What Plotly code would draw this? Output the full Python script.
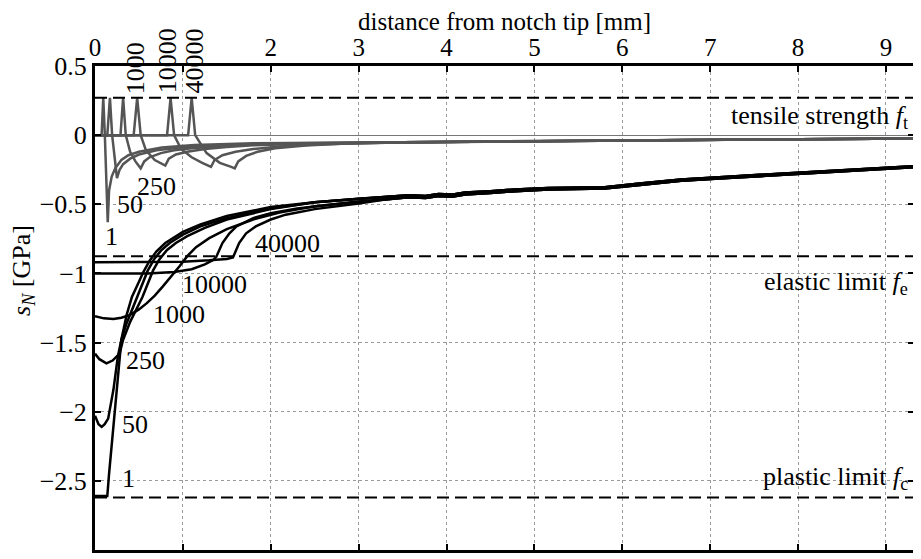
import plotly.graph_objects as go

# ---------------- data ----------------
F_T = 0.27      # tensile strength
F_E = -0.875    # elastic limit
F_C = -2.62     # plastic limit
X_MAX = 9.32

cycles = ["1", "50", "250", "1000", "10000", "40000"]

# grey curves (tensile side), heads
g1_x = [0, 0.075, 0.094, 0.112, 0.145, 0.16, 0.19, 0.23, 0.3, 0.38, 0.5, 0.76, 1.13, 1.8]
g1_y = [0, 0, 0.27, 0, -0.63, -0.40, -0.30, -0.24, -0.18, -0.145, -0.12, -0.09, -0.072, -0.058]
g50_x = [0, 0.14, 0.17, 0.195, 0.25, 0.28, 0.32, 0.4, 0.5, 0.7, 0.9, 1.2, 1.6, 2.0]
g50_y = [0, 0, 0.27, 0, -0.31, -0.25, -0.21, -0.17, -0.14, -0.11, -0.095, -0.08, -0.068, -0.06]
g250_x = [0, 0.29, 0.32, 0.35, 0.40, 0.46, 0.52, 0.56, 0.62, 0.75, 0.9, 1.1, 1.4, 1.8, 2.2]
g250_y = [0, 0, 0.27, 0, -0.12, -0.19, -0.24, -0.19, -0.16, -0.13, -0.11, -0.095, -0.08, -0.068, -0.062]
g1000_x = [0, 0.44, 0.48, 0.52, 0.58, 0.68, 0.80, 0.84, 0.92, 1.05, 1.25, 1.5, 1.8, 2.2, 2.6]
g1000_y = [0, 0, 0.27, 0, -0.11, -0.18, -0.22, -0.17, -0.14, -0.12, -0.1, -0.085, -0.073, -0.065, -0.058]
g10000_x = [0, 0.82, 0.86, 0.90, 0.98, 1.1, 1.22, 1.32, 1.36, 1.45, 1.6, 1.8, 2.1, 2.5, 3.0]
g10000_y = [0, 0, 0.27, 0, -0.1, -0.16, -0.2, -0.23, -0.18, -0.145, -0.12, -0.1, -0.083, -0.068, -0.058]
g40000_x = [0, 1.06, 1.10, 1.14, 1.27, 1.42, 1.55, 1.59, 1.63, 1.72, 1.85, 2.05, 2.4, 2.8, 3.3]
g40000_y = [0, 0, 0.27, 0, -0.13, -0.20, -0.23, -0.24, -0.19, -0.15, -0.12, -0.095, -0.075, -0.063, -0.055]
# shared grey tail
gtail_x = [3.5, 4.5, 6.0, 7.5, 9.32]
gtail_y = [-0.052, -0.046, -0.038, -0.031, -0.024]

# black curves (compressive side), heads
b1_x = [0, 0.14, 0.16, 0.2, 0.25, 0.3, 0.36, 0.42, 0.5, 0.55, 0.62, 0.7, 0.8, 1.0, 1.2, 1.5, 2.0]
b1_y = [-2.61, -2.61, -2.45, -2.18, -1.82, -1.48, -1.30, -1.17, -1.06, -0.99, -0.91, -0.84, -0.78, -0.70, -0.645, -0.585, -0.52]
b50_x = [0, 0.04, 0.076, 0.11, 0.15, 0.21, 0.26, 0.30, 0.36, 0.48, 0.6, 0.67, 0.75, 0.85, 1.0, 1.2, 1.5, 2.0]
b50_y = [-2.03, -2.09, -2.11, -2.09, -2.05, -1.84, -1.60, -1.48, -1.36, -1.17, -0.98, -0.9, -0.835, -0.78, -0.72, -0.66, -0.6, -0.53]
b250_x = [0, 0.05, 0.13, 0.2, 0.28, 0.32, 0.40, 0.54, 0.66, 0.73, 0.82, 0.92, 1.05, 1.25, 1.5, 2.0]
b250_y = [-1.58, -1.62, -1.65, -1.63, -1.58, -1.48, -1.35, -1.17, -0.98, -0.9, -0.83, -0.78, -0.73, -0.67, -0.61, -0.535]
b1000_x = [0, 0.1, 0.21, 0.3, 0.4, 0.5, 0.59, 0.68, 0.77, 0.87, 0.96, 1.05, 1.15, 1.3, 1.5, 1.8, 2.1, 2.5, 3.0]
b1000_y = [-1.31, -1.325, -1.33, -1.32, -1.30, -1.26, -1.215, -1.16, -1.095, -1.02, -0.95, -0.875, -0.81, -0.745, -0.68, -0.61, -0.56, -0.515, -0.48]
b10000_x = [0, 0.3, 0.6, 0.9, 1.1, 1.25, 1.34, 1.38, 1.45, 1.53, 1.61, 1.8, 2.0, 2.3, 2.7, 3.0]
b10000_y = [-1.0, -1.0, -1.0, -0.99, -0.97, -0.935, -0.905, -0.88, -0.78, -0.71, -0.66, -0.6, -0.565, -0.53, -0.5, -0.482]
b40000_x = [0, 0.5, 1.0, 1.3, 1.5, 1.57, 1.64, 1.72, 1.83, 2.0, 2.17, 2.5, 3.0]
b40000_y = [-0.92, -0.92, -0.915, -0.905, -0.895, -0.885, -0.78, -0.71, -0.66, -0.61, -0.575, -0.535, -0.495]
# shared black tails (upper / lower edge of the band)
btail_up_x = [2.5, 3.0, 3.3, 3.57, 3.76, 3.91, 4.06, 4.21, 4.5, 4.78, 5.16, 5.5, 5.8, 6.2, 6.67, 7.2, 7.62, 8.1, 8.56, 9.0, 9.32]
btail_up_y = [-0.485, -0.46, -0.447, -0.435, -0.44, -0.425, -0.43, -0.415, -0.405, -0.393, -0.383, -0.378, -0.377, -0.35, -0.32, -0.30, -0.285, -0.27, -0.25, -0.235, -0.225]
btail_lo_x = [3.3, 3.57, 3.76, 3.91, 4.06, 4.21, 4.5, 4.78, 5.16, 5.5, 5.8, 6.2, 6.67, 7.2, 7.62, 8.1, 8.56, 9.0, 9.32]
btail_lo_y = [-0.465, -0.45, -0.455, -0.44, -0.445, -0.43, -0.418, -0.405, -0.393, -0.388, -0.386, -0.36, -0.33, -0.31, -0.294, -0.278, -0.258, -0.243, -0.232]

x_tickvals = [0, 1, 2, 3, 4, 5, 6, 7, 8, 9]
x_ticktext = ["0", "", "2", "3", "4", "5", "6", "7", "8", "9"]
y_tickvals = [0.5, 0, -0.5, -1, -1.5, -2, -2.5, -3]
y_ticktext = ["0.5", "0", "\u22120.5", "\u22121", "\u22121.5", "\u22122", "\u22122.5", "\u22123"]

# label positions (data coordinates)
grey_lab_x = [0.19, 0.40, 0.70]
grey_lab_y = [-0.73, -0.505, -0.37]
grey_rot_x = [0.46, 0.82, 1.13]
black_lab_x = [0.385, 0.455, 0.58, 0.955, 1.36, 2.19]
black_lab_y = [-2.48, -2.09, -1.63, -1.295, -1.077, -0.78]

# ---------------- figure ----------------
FONT = "Liberation Serif, Times New Roman, serif"
FS = 26
GREY = "#555555"
fig = go.Figure()

grey_heads = [(g1_x, g1_y), (g50_x, g50_y), (g250_x, g250_y),
              (g1000_x, g1000_y), (g10000_x, g10000_y), (g40000_x, g40000_y)]
for (hx, hy) in grey_heads:
    fig.add_trace(go.Scatter(x=hx + gtail_x, y=hy + gtail_y, mode="lines",
                             line=dict(color=GREY, width=2.5), showlegend=False,
                             hoverinfo="skip"))

black_heads = [(b1_x, b1_y, "up"), (b50_x, b50_y, "up"), (b250_x, b250_y, "up"),
               (b1000_x, b1000_y, "lo"), (b10000_x, b10000_y, "lo"), (b40000_x, b40000_y, "lo")]
for (hx, hy, t) in black_heads:
    tx, ty = (btail_up_x, btail_up_y) if t == "up" else (btail_lo_x, btail_lo_y)
    fig.add_trace(go.Scatter(x=hx + tx, y=hy + ty, mode="lines",
                             line=dict(color="black", width=2.5), showlegend=False,
                             hoverinfo="skip"))

for lvl in [F_T, F_E, F_C]:
    fig.add_trace(go.Scatter(x=[0, X_MAX], y=[lvl, lvl], mode="lines",
                             line=dict(color="black", width=2, dash="12px,6px"),
                             showlegend=False, hoverinfo="skip"))

tf = dict(size=FS, color="black", family=FONT)
ann = []
for i in range(3):
    ann.append(dict(x=grey_lab_x[i], y=grey_lab_y[i], text=cycles[i], showarrow=False, font=tf))
for i in range(3):
    ann.append(dict(x=grey_rot_x[i], y=F_T, yanchor="bottom", xanchor="center", yshift=2,
                    text=cycles[i + 3], showarrow=False, textangle=-90, font=tf))
for i in range(6):
    ann.append(dict(x=black_lab_x[i], y=black_lab_y[i], text=cycles[i], showarrow=False, font=tf))

ann.append(dict(x=9.28, y=0.13, xanchor="right", text="tensile strength <i>f</i><sub>t</sub>",
                showarrow=False, font=tf))
ann.append(dict(x=9.28, y=-1.07, xanchor="right", text="elastic limit <i>f</i><sub>e</sub>",
                showarrow=False, font=tf))
ann.append(dict(x=9.28, y=-2.48, xanchor="right", text="plastic limit <i>f</i><sub>c</sub>",
                showarrow=False, font=tf))
ann.append(dict(xref="paper", yref="paper", x=0.5, y=1, yanchor="middle", xanchor="center",
                yshift=45, borderpad=0, text="distance from notch tip [mm]", showarrow=False,
                font=dict(size=25, color="black", family=FONT)))
ann.append(dict(xref="paper", x=-0.0888, y=-0.98, yref="y", textangle=-90,
                xanchor="center", yanchor="middle",
                text="<i>s</i><sub><i>N</i></sub> [GPa]", showarrow=False, font=tf))

# page body has an 8px default margin: the figure is sized/offset accordingly
fig.update_layout(
    width=913, height=551,
    margin=dict(l=87, r=4, t=58, b=9),
    paper_bgcolor="white", plot_bgcolor="white",
    font=dict(family=FONT, size=FS, color="black"),
    annotations=ann,
    showlegend=False,
)
fig.update_xaxes(range=[0, X_MAX], side="top", tickvals=x_tickvals, ticktext=x_ticktext,
                 showline=True, linewidth=3, linecolor="black", mirror="allticks",
                 ticks="inside", ticklen=6, tickwidth=1.5, tickcolor="black",
                 ticklabelstandoff=-3,
                 showgrid=True, gridcolor="#9a9a9a", gridwidth=1, griddash="dot",
                 zeroline=False, tickfont=dict(size=25, family=FONT))
fig.update_yaxes(range=[-3, 0.5], tickvals=y_tickvals, ticktext=y_ticktext,
                 showline=True, linewidth=3, linecolor="black", mirror="allticks",
                 ticks="inside", ticklen=6, tickwidth=1.5, tickcolor="black",
                 showgrid=True, gridcolor="#9a9a9a", gridwidth=1, griddash="dot",
                 zeroline=True, zerolinecolor="#777777", zerolinewidth=1,
                 tickfont=dict(size=FS, family=FONT))

fig.write_html("out.html")
